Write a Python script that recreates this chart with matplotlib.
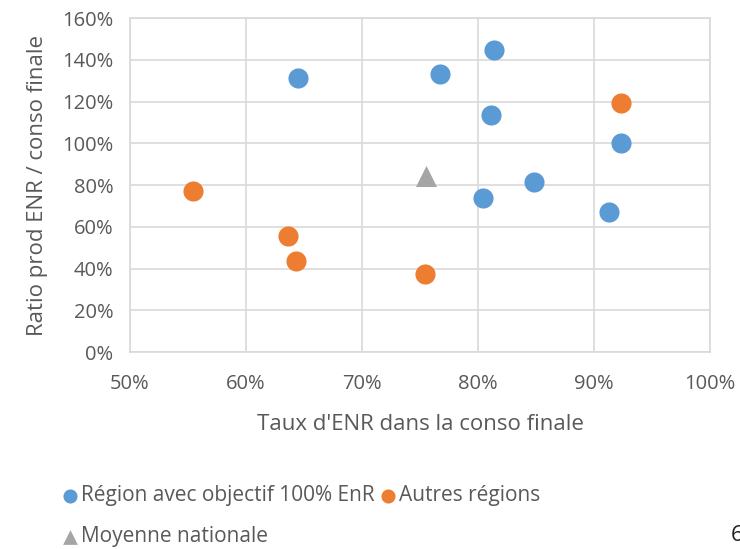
import matplotlib.pyplot as plt
from matplotlib.ticker import FuncFormatter

plt.rcParams['font.family'] = ['Open Sans', 'DejaVu Sans']

# Région avec objectif 100% EnR
obj_x = [64.5, 81.4, 76.7, 81.1, 92.3, 84.8, 80.4, 91.3]
obj_y = [131.3, 144.8, 133.0, 113.4, 100.1, 81.6, 73.9, 67.1]

# Autres régions
autres_x = [55.4, 92.3, 63.6, 64.3, 75.4]
autres_y = [77.1, 119.1, 55.6, 43.4, 37.5]

# Moyenne nationale
moy_x = [75.5]
moy_y = [84.5]

blue = '#5b9bd5'
orange = '#ed7d31'
grey = '#a5a5a5'
txt = '#595959'

fig = plt.figure(figsize=(7.4, 5.49), dpi=100)
ax = fig.add_axes([0.1757, 0.3588, 0.7838, 0.6084])

h1 = ax.scatter(obj_x, obj_y, s=210, color=blue, label='Région avec objectif 100% EnR', zorder=3, linewidths=0)
h2 = ax.scatter(autres_x, autres_y, s=210, color=orange, label='Autres régions', zorder=3, linewidths=0)
h3 = ax.scatter(moy_x, moy_y, s=230, marker='^', color=grey, label='Moyenne nationale', zorder=3, linewidths=0)

ax.set_xlim(50, 100)
ax.set_ylim(0, 160)
ax.set_xticks(range(50, 101, 10))
ax.set_yticks(range(0, 161, 20))
pct = FuncFormatter(lambda v, p: f'{v:.0f}%')
ax.xaxis.set_major_formatter(pct)
ax.yaxis.set_major_formatter(pct)
ax.grid(True, color='#d9d9d9', linewidth=1.2)
ax.set_axisbelow(True)
for s in ax.spines.values():
    s.set_color('#d9d9d9')
    s.set_linewidth(1.2)
ax.tick_params(axis='x', length=0, labelsize=14.5, colors=txt, pad=16)
ax.tick_params(axis='y', length=0, labelsize=14.5, colors=txt, pad=12)

ax.set_xlabel("Taux d'ENR dans la conso finale", fontsize=16, color=txt, labelpad=14)
ax.set_ylabel('Ratio prod ENR / conso finale', fontsize=16, color=txt, labelpad=10)

# column-major fill: col 1 = blue, triangle ; col 2 = orange
fig.legend([h1, h3, h2], [h1.get_label(), h3.get_label(), h2.get_label()],
           loc='upper left', bbox_to_anchor=(0.072, 0.135), ncol=2, frameon=False,
           fontsize=15, labelcolor=txt, handlelength=0.6, handletextpad=0.22,
           columnspacing=0.35, labelspacing=0.95, borderpad=0, markerscale=0.7)

fig.text(0.988, 0.005, '6', fontsize=16, color='#222222', ha='left', va='bottom')

fig.savefig('out.png')
